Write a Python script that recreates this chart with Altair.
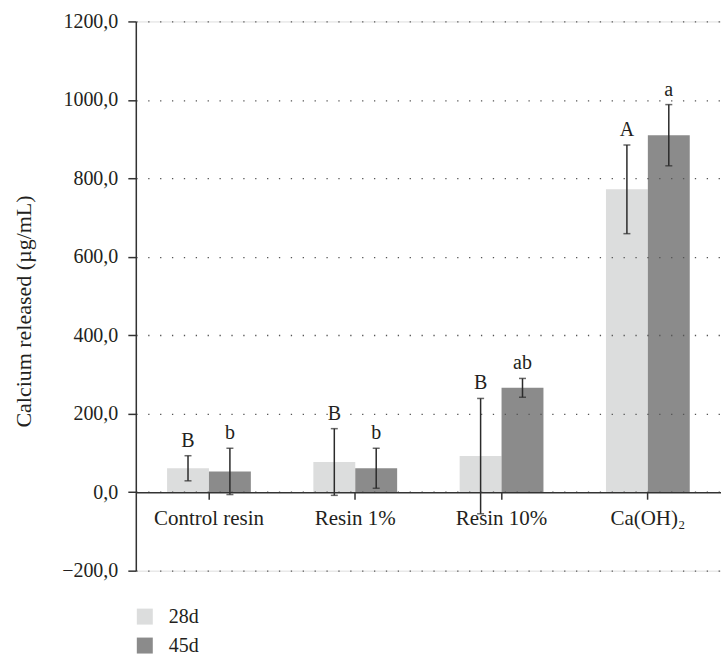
import altair as alt
import pandas as pd

# Calcium released per material at two time points (mean ± SD)
groups = ["Control resin", "Resin 1%", "Resin 10%", "Ca(OH)₂"]
periods = ["28d", "45d"]
mean_28d = [61, 77, 92, 772]
sd_28d = [32, 85, 147, 113]
mean_45d = [53, 61, 266, 910]
sd_45d = [59, 51, 24, 78]
letters_28d = ["B", "B", "B", "A"]
letters_45d = ["b", "b", "ab", "a"]
y_ticks = [-200, 0, 200, 400, 600, 800, 1000, 1200]

rows = []
for period, means, sds, letters in [
    ("28d", mean_28d, sd_28d, letters_28d),
    ("45d", mean_45d, sd_45d, letters_45d),
]:
    for g, m, s, l in zip(groups, means, sds, letters):
        rows.append({"group": g, "period": period, "mean": m,
                     "lo": m - s, "hi": m + s, "letter": l})
df = pd.DataFrame(rows)

FONT = "Liberation Serif"
INK = "#231f20"
W, H = 586, 550

x_enc = alt.X(
    "group:N", sort=groups,
    scale=alt.Scale(paddingInner=0, paddingOuter=0),
    axis=alt.Axis(
        title=None, orient="bottom", offset=-H / 7,
        domainColor="#333333", domainWidth=1.5,
        tickColor="#333333", tickWidth=1.5, tickSize=7,
        labelFont=FONT, labelFontSize=21, labelColor=INK,
        labelPadding=8, labelAngle=0, zindex=2,
    ),
)
xo_enc = alt.XOffset(
    "period:N", sort=periods,
    scale=alt.Scale(paddingInner=0, paddingOuter=0.746),
)

base = alt.Chart(df)

bars = base.mark_bar().encode(
    x=x_enc,
    xOffset=xo_enc,
    y=alt.Y(
        "mean:Q",
        scale=alt.Scale(domain=[-200, 1200], nice=False, zero=False),
        axis=alt.Axis(
            title="Calcium released (µg/mL)",
            values=y_ticks,
            labelExpr="(datum.value < 0 ? '\u2212' : '') + replace(format(abs(datum.value), '.1f'), '.', ',')",
            labelFont=FONT, labelFontSize=20, labelColor=INK, labelPadding=10,
            titleFont=FONT, titleFontSize=22, titleFontWeight="normal", titleColor=INK,
            titleX=-100, titleY=290, titleBaseline="bottom",
            domainColor="#333333", domainWidth=1.5,
            tickColor="#333333", tickWidth=1.5, tickSize=8,
            grid=True, gridColor="#555555", gridWidth=1.3,
            gridDash=[1.3, 10.6], zindex=1,
        ),
    ),
    color=alt.Color(
        "period:N",
        scale=alt.Scale(domain=periods, range=["#dcdddd", "#8b8b8b"]),
        legend=alt.Legend(
            title=None, orient="none", legendX=-1, legendY=586,
            direction="vertical", symbolType="square", symbolSize=256,
            symbolStrokeWidth=0, labelFont=FONT, labelFontSize=20,
            labelColor=INK, labelOffset=14, rowPadding=9, padding=0,
        ),
    ),
)

whisker = base.mark_rule(color="#2b2b2b", strokeWidth=1.5).encode(
    x=alt.X("group:N", sort=groups),
    xOffset=alt.XOffset("period:N", sort=periods),
    y="lo:Q",
    y2="hi:Q",
)

cap_hi = base.mark_tick(color="#2b2b2b", thickness=1.5, size=7, orient="horizontal").encode(
    x=alt.X("group:N", sort=groups),
    xOffset=alt.XOffset("period:N", sort=periods),
    y="hi:Q",
)
cap_lo = base.mark_tick(color="#2b2b2b", thickness=1.5, size=7, orient="horizontal").encode(
    x=alt.X("group:N", sort=groups),
    xOffset=alt.XOffset("period:N", sort=periods),
    y="lo:Q",
)

letters = base.mark_text(
    font=FONT, fontSize=20, color=INK, baseline="alphabetic", dy=-9,
).encode(
    x=alt.X("group:N", sort=groups),
    xOffset=alt.XOffset("period:N", sort=periods),
    y="hi:Q",
    text="letter:N",
)

chart = (
    alt.layer(bars, whisker, cap_hi, cap_lo, letters)
    .properties(
        width=W, height=H,
        autosize=alt.AutoSizeParams(type="none"),
        padding={"left": 136, "top": 21, "right": 0, "bottom": 85},
    )
    .configure_view(stroke=None)
    .configure(background="white")
)

chart.save("out.html", embed_options={"renderer": "svg", "actions": False})
